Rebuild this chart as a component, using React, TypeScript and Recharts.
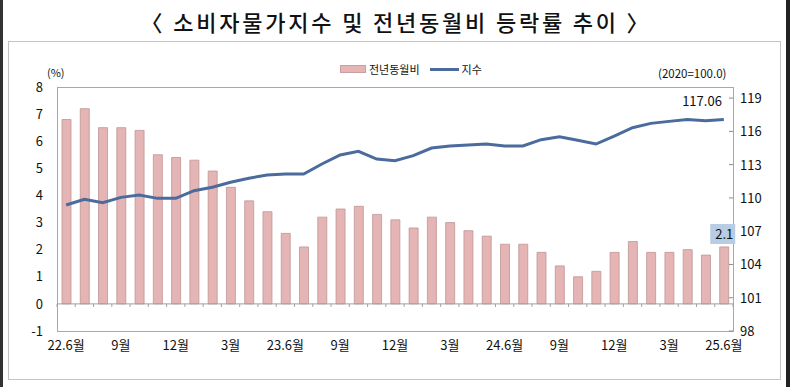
import { ComposedChart, Bar, Line, XAxis, YAxis, ReferenceLine, LabelList } from "recharts";

const months = [
  "22.6월", "7월", "8월", "9월", "10월", "11월", "12월", "1월", "2월", "3월", "4월", "5월",
  "23.6월", "7월", "8월", "9월", "10월", "11월", "12월", "1월", "2월", "3월", "4월", "5월",
  "24.6월", "7월", "8월", "9월", "10월", "11월", "12월", "1월", "2월", "3월", "4월", "5월",
  "25.6월",
];

// 전년동월비 (%)
const yoy = [
  6.8, 7.2, 6.5, 6.5, 6.4, 5.5, 5.4, 5.3, 4.9, 4.3, 3.8, 3.4,
  2.6, 2.1, 3.2, 3.5, 3.6, 3.3, 3.1, 2.8, 3.2, 3.0, 2.7, 2.5,
  2.2, 2.2, 1.9, 1.4, 1.0, 1.2, 1.9, 2.3, 1.9, 1.9, 2.0, 1.8,
  2.1,
];

// 지수 (2020=100.0)
const cpi = [
  109.36, 109.88, 109.57, 110.05, 110.26, 109.96, 109.96, 110.65, 110.96, 111.41, 111.77, 112.07,
  112.15, 112.16, 113.06, 113.87, 114.2, 113.5, 113.36, 113.81, 114.5, 114.68, 114.77, 114.86,
  114.68, 114.68, 115.25, 115.52, 115.2, 114.86, 115.58, 116.33, 116.72, 116.9, 117.08, 116.96,
  117.06,
];

const leftTicks = [-1, 0, 1, 2, 3, 4, 5, 6, 7, 8];
const rightTicks = [98, 101, 104, 107, 110, 113, 116, 119];

const data = months.map((m, i) => ({ month: m, yoy: yoy[i], cpi: cpi[i] }));
const last = months.length - 1;

const FONT = "'Noto Sans CJK KR', 'Noto Sans', sans-serif";

const RightTick = (props: any) => {
  const { x, y, payload } = props;
  const axisX = x - 7;
  return (
    <g>
      <line x1={axisX - 4} x2={axisX} y1={y} y2={y} stroke="#8c8c8c" />
      <text x={x} y={y} dy={5} textAnchor="start" fontSize={13} fill="#111" fontFamily={FONT}>
        {payload.value}
      </text>
    </g>
  );
};

const ZeroLine = (props: any) => {
  const { x1, x2, y1 } = props;
  const n = months.length;
  const step = (x2 - x1) / n;
  return (
    <g>
      <line x1={x1} x2={x2} y1={y1} y2={y1} stroke="#a0a0a0" />
      {Array.from({ length: n + 1 }, (_, i) => (
        <line key={i} x1={x1 + i * step} x2={x1 + i * step} y1={y1} y2={y1 + 3} stroke="#a0a0a0" />
      ))}
    </g>
  );
};

const BarTag = (props: any) => {
  const { x, y, width, value, index } = props;
  if (index !== last) return null;
  const cx = x + width / 2;
  return (
    <g>
      <rect x={cx - 14} y={y - 23} width={25} height={20} fill="#b8cce4" />
      <text x={cx + 9} y={y - 8} textAnchor="end" fontSize={13} fill="#111" fontFamily={FONT}>
        {value}
      </text>
    </g>
  );
};

const LineTag = (props: any) => {
  const { x, y, value, index } = props;
  if (index !== last) return null;
  return (
    <text x={x - 2} y={y - 14} textAnchor="end" fontSize={13} fill="#111" fontFamily={FONT}>
      {Number(value).toFixed(2)}
    </text>
  );
};

export default function App() {
  return (
    <div
      style={{
        position: "absolute",
        left: 0,
        top: 0,
        width: 792,
        height: 387,
        background: "#fff",
        overflow: "hidden",
        fontFamily: FONT,
      }}
    >
      <div style={{ position: "absolute", left: 0, top: 0, width: 3, height: 387, background: "#333" }} />
      <div style={{ position: "absolute", left: 786, top: 0, width: 4, height: 387, background: "#222" }} />
      <div
        style={{
          position: "absolute",
          left: 0,
          top: 5,
          width: 792,
          textAlign: "center",
          fontSize: 22,
          fontWeight: 500,
          color: "#111",
          letterSpacing: 2.8,
        }}
      >
        〈 소비자물가지수 및 전년동월비 등락률 추이 〉
      </div>
      <div
        style={{
          position: "absolute",
          left: 8,
          top: 41,
          width: 771,
          height: 337,
          border: "1px solid #c4c4c4",
        }}
      />
      <div
        style={{
          position: "absolute",
          left: 57,
          top: 87,
          width: 675,
          height: 243,
          border: "1px solid #a8a8a8",
        }}
      />
      <div style={{ position: "absolute", left: 47, top: 64, fontSize: 11, color: "#111" }}>(%)</div>
      <div style={{ position: "absolute", left: 658, top: 65, fontSize: 11.5, color: "#111" }}>(2020=100.0)</div>
      <div
        style={{
          position: "absolute",
          left: 340,
          top: 61,
          display: "flex",
          alignItems: "center",
          fontSize: 11,
          color: "#111",
        }}
      >
        <span style={{ display: "inline-block", width: 24, height: 6, background: "#e5b5b5", border: "1px solid #c9a0a0", marginRight: 3 }} />
        <span style={{ marginRight: 10 }}>전년동월비</span>
        <span style={{ display: "inline-block", width: 29, height: 3, background: "#4a6b9c", marginRight: 3 }} />
        <span>지수</span>
      </div>
      <div style={{ position: "absolute", left: 0, top: 0 }}>
        <ComposedChart width={792} height={387} data={data} margin={{ top: 87, right: 0, bottom: 0, left: 0 }}>
          <XAxis
            dataKey="month"
            interval={2}
            axisLine={false}
            tickLine={false}
            tickSize={6}
            tickMargin={4}
            height={56}
            tick={{ fontSize: 13, fill: "#111", fontFamily: FONT }}
          />
          <YAxis
            yAxisId="left"
            domain={[-1, 8]}
            ticks={leftTicks}
            width={57}
            axisLine={false}
            tickLine={false}
            tickSize={6}
            tickMargin={8}
            tick={{ fontSize: 13, fill: "#111", fontFamily: FONT }}
          />
          <YAxis
            yAxisId="right"
            orientation="right"
            domain={[98, 120]}
            ticks={rightTicks}
            width={59}
            axisLine={false}
            tickLine={false}
            tickSize={6}
            tickMargin={1}
            tick={<RightTick />}
          />
          <ReferenceLine yAxisId="left" y={0} shape={<ZeroLine />} />
          <Bar
            yAxisId="left"
            dataKey="yoy"
            barSize={9}
            fill="#e5b5b5"
            stroke="#bf9494"
            strokeWidth={0.8}
            isAnimationActive={false}
          >
            <LabelList dataKey="yoy" content={<BarTag />} />
          </Bar>
          <Line
            yAxisId="right"
            dataKey="cpi"
            type="linear"
            stroke="#4a6b9c"
            strokeWidth={3}
            dot={false}
            isAnimationActive={false}
          >
            <LabelList dataKey="cpi" content={<LineTag />} />
          </Line>
        </ComposedChart>
      </div>
    </div>
  );
}
